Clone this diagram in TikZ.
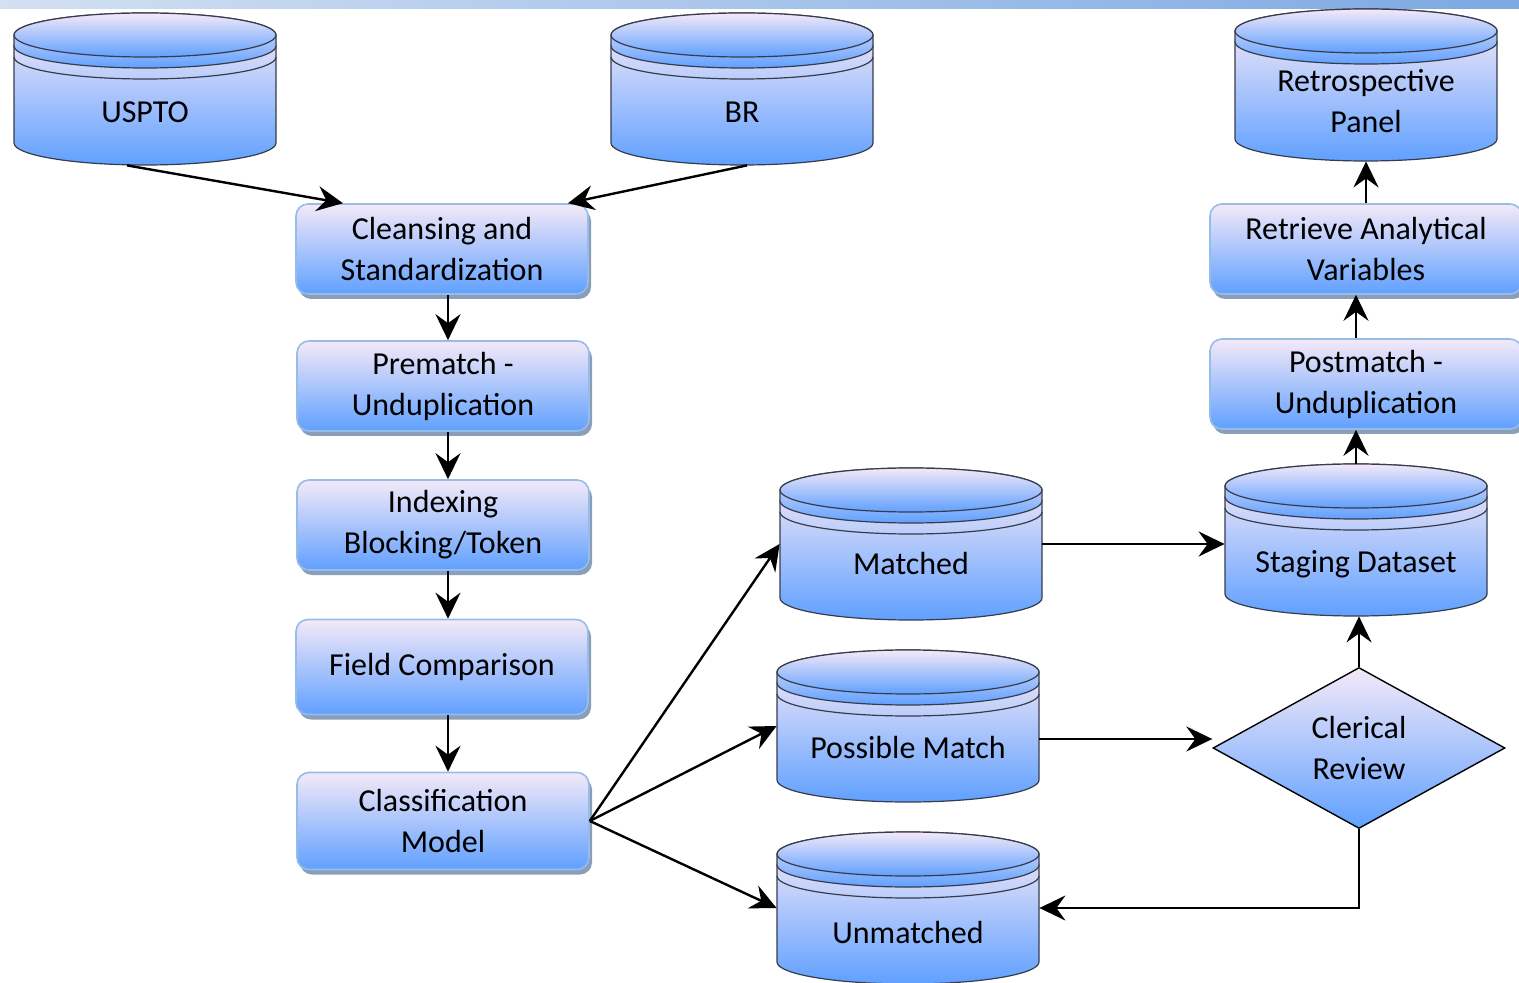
\documentclass[tikz,border=0pt]{standalone}
\usepackage{fontspec}
\setmainfont{Carlito}
\usetikzlibrary{shapes.geometric,shadows,arrows.meta,calc}

\definecolor{pinktop}{RGB}{244,233,248}
\definecolor{bluebot}{RGB}{96,160,255}
\definecolor{boxline}{RGB}{150,188,232}
\definecolor{boxshadow}{RGB}{138,158,186}
\definecolor{dbline}{RGB}{55,60,75}
\definecolor{stripl}{RGB}{210,224,242}
\definecolor{stripm}{RGB}{105,155,222}
\definecolor{stripr}{RGB}{125,168,226}

\tikzset{
  procbox/.style={draw=boxline, line width=0.8pt, rounded corners=6pt,
    top color=pinktop, bottom color=bluebot, minimum width=146pt,
    minimum height=45pt, align=center,
    drop shadow={shadow xshift=1.5pt, shadow yshift=-2.5pt, fill=boxshadow, opacity=1}},
  decision/.style={diamond, draw, line width=0.7pt, top color=pinktop,
    bottom color=bluebot, aspect=1.81, minimum width=146pt,
    minimum height=80.5pt, inner sep=0pt, align=center},
  dbnode/.style={minimum width=131pt, minimum height=76pt, inner sep=0pt},
  dblabel/.style={align=center},
  flow/.style={-{Stealth[length=13pt,width=12.5pt,inset=4.5pt]}, line width=1.2pt},
  dbcyl/.pic={
    \shade[draw=dbline, line width=0.6pt, top color=pinktop, bottom color=bluebot]
      (-131,43) -- (-131,-54) arc[start angle=180, end angle=360, x radius=131, y radius=22]
      -- (131,43) arc[start angle=0, end angle=180, x radius=131, y radius=22] -- cycle;
    \ifnum#1>1
      \draw[dbline, line width=0.6pt]
        (-131,32) arc[start angle=180, end angle=360, x radius=131, y radius=22];
    \fi
    \shade[draw=dbline, line width=0.6pt, top color=pinktop, bottom color=bluebot]
      (-131,54) -- (-131,43) arc[start angle=180, end angle=360, x radius=131, y radius=22]
      -- (131,54) arc[start angle=0, end angle=180, x radius=131, y radius=22] -- cycle;
    \shade[draw=dbline, line width=0.6pt, top color=pinktop, bottom color=bluebot]
      (0,54) ellipse[x radius=131, y radius=22];
  }
}

\begin{document}
\begin{tikzpicture}[x=0.5pt, y=0.5pt, font=\fontsize{16}{20.5}\selectfont]
  \useasboundingbox (0,0) rectangle (1519,-983);

  % slide strip
  \shade[left color=stripl, middle color=stripm, right color=stripr] (0,0) rectangle (1519,-9);

  % Data stores
  \foreach \n/\x/\y/\r/\d/\t in {usp/145/89/2/23/USPTO, br/742/89/2/23/BR,
      rp/1366/85/1/16/{Retrospective\\Panel}, mt/911/544/2/20/Matched,
      st/1356/540/2/24/{Staging Dataset}, pm/908/726/2/22/{Possible Match},
      um/908/908/2/24/Unmatched}{
    \pic at (\x,-\y) {dbcyl=\r};
    \node[dbnode] (\n) at (\x,-\y) {};
    \node[dblabel] (\n-l) at (\x,-\y-\d) {\t};
  }

  % Processing steps
  \node[procbox] (cls) at (442,-249) {Cleansing and\\Standardization};
  \node[procbox] (pre) at (443,-386) {Prematch -\\Unduplication};
  \node[procbox] (idx) at (443,-525) {Indexing\\Blocking/Token};
  \node[procbox, minimum height=47.5pt] (fld) at (442,-667) {Field Comparison};
  \node[procbox, minimum height=48.5pt] (clm) at (443,-821) {Classification\\Model};
  \node[procbox, minimum width=156pt] (ret) at (1366,-249) {Retrieve Analytical\\Variables};
  \node[procbox, minimum width=156pt] (pmu) at (1366,-384) {Postmatch -\\Unduplication};
  \node[decision] (cr) at (1359,-748) {Clerical\\Review};

  % Connections
  \draw[flow] ([xshift=-9pt]usp.south) -- ([xshift=-49.5pt]cls.north);
  \draw[flow] ([xshift=2.5pt]br.south) -- ([xshift=63pt]cls.north);
  \draw[flow] ([xshift=3pt]cls.south) -- ([xshift=2.5pt]pre.north);
  \draw[flow] ([xshift=2.5pt]pre.south) -- ([xshift=2.5pt]idx.north);
  \draw[flow] ([xshift=2.5pt]idx.south) -- ([xshift=3pt]fld.north);
  \draw[flow] ([xshift=3pt]fld.south) -- ([xshift=2.5pt]clm.north);

  \draw[flow] (clm.east) -- (mt.west);
  \draw[flow] (clm.east) -- (pm.west);
  \draw[flow] (clm.east) -- (um.west);

  \draw[flow] (mt.east) -- (mt.east -| st.west);
  \draw[flow] ([yshift=-6.5pt]pm.east) -- ([yshift=-6.5pt]pm.east -| cr.west);
  \draw[flow] (cr.south) |- (um.east);
  \draw[flow] (cr.north) -- (cr.north |- st.south);
  \draw[flow] (st.north) -- (st.north |- pmu.south);
  \draw[flow] (st.north |- pmu.north) -- (st.north |- ret.south);
  \draw[flow] (rp.south |- ret.north) -- (rp.south);

\end{tikzpicture}
\end{document}
